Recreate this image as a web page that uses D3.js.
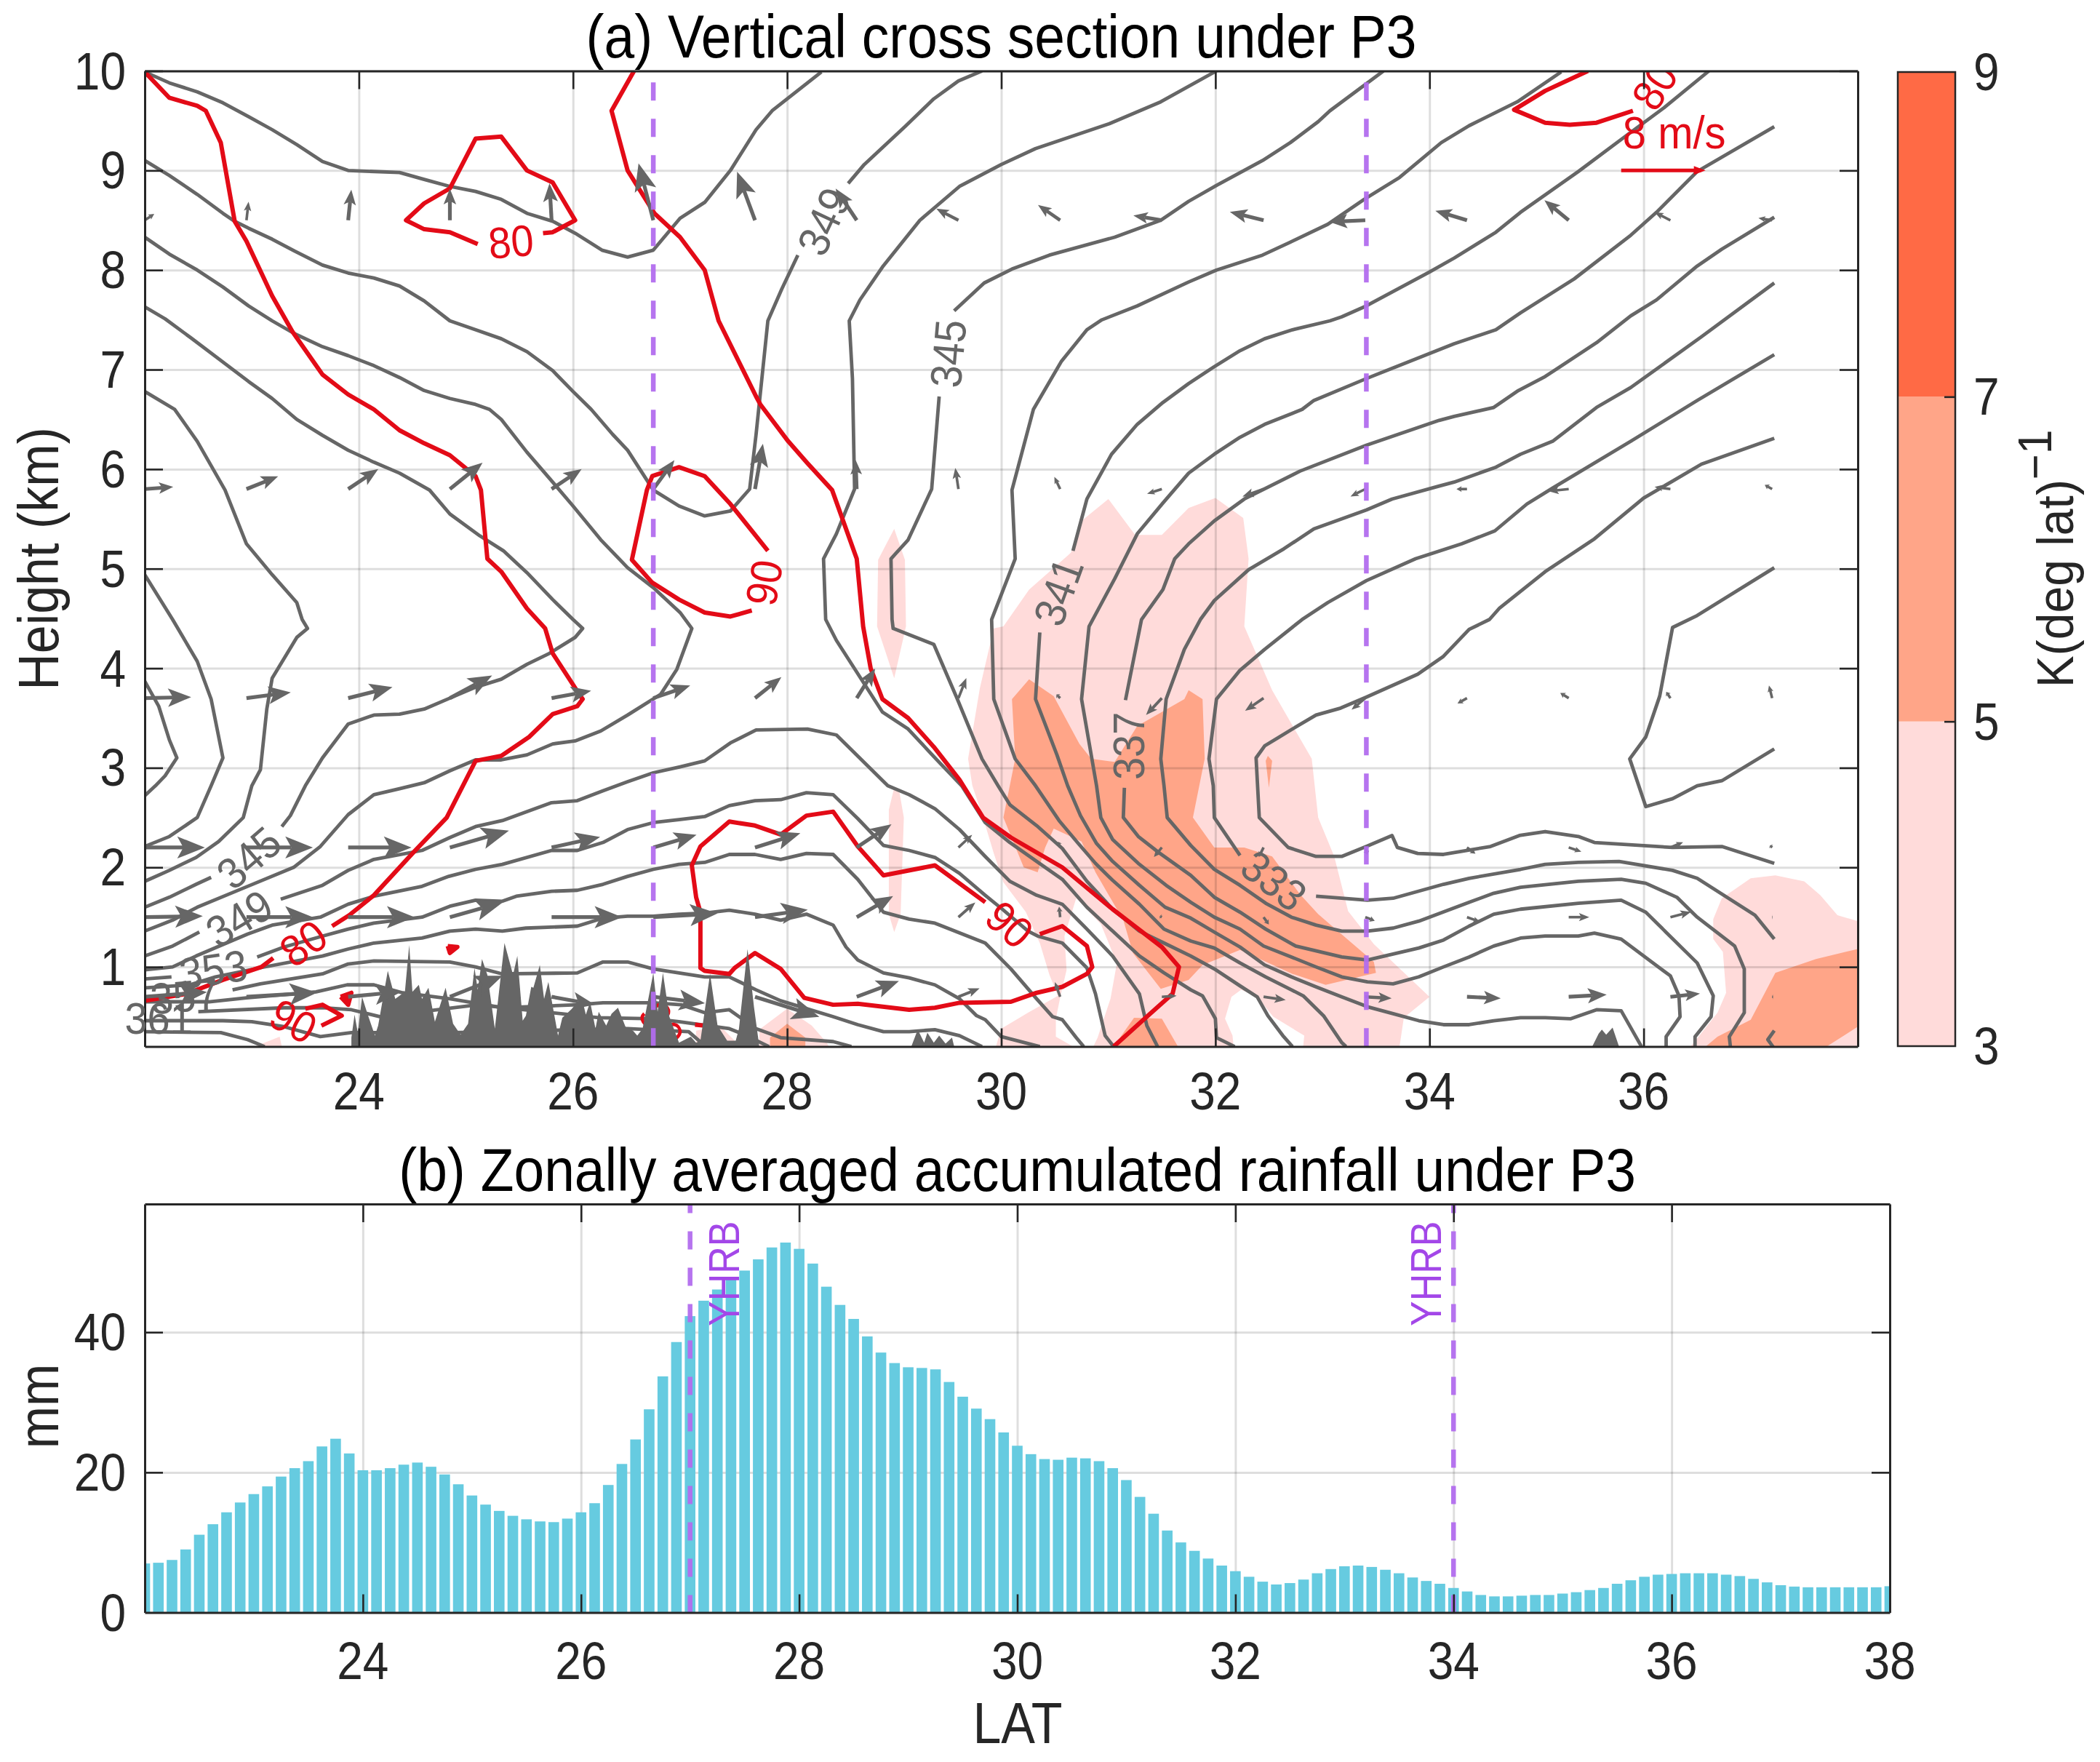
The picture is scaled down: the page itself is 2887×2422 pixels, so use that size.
<!DOCTYPE html>
<html><head><meta charset="utf-8">
<script src="https://cdn.jsdelivr.net/npm/d3@7/dist/d3.min.js"></script>
<style>
html,body{margin:0;padding:0;background:#fff}
text{font-family:"Liberation Sans",Arial,sans-serif}
</style></head><body><svg id="c" width="2887" height="2422"></svg>
<script>
// ---------- rainfall (panel b), one value per 0.125 deg from 22N ----------
const rainLat = [22,22.125,22.25,22.375,22.5,22.625,22.75,22.875,23,23.125,23.25,23.375,23.5,23.625,23.75,23.875,24,24.125,24.25,24.375,24.5,24.625,24.75,24.875,25,25.125,25.25,25.375,25.5,25.625,25.75,25.875,26,26.125,26.25,26.375,26.5,26.625,26.75,26.875,27,27.125,27.25,27.375,27.5,27.625,27.75,27.875,28,28.125,28.25,28.375,28.5,28.625,28.75,28.875,29,29.125,29.25,29.375,29.5,29.625,29.75,29.875,30,30.125,30.25,30.375,30.5,30.625,30.75,30.875,31,31.125,31.25,31.375,31.5,31.625,31.75,31.875,32,32.125,32.25,32.375,32.5,32.625,32.75,32.875,33,33.125,33.25,33.375,33.5,33.625,33.75,33.875,34,34.125,34.25,34.375,34.5,34.625,34.75,34.875,35,35.125,35.25,35.375,35.5,35.625,35.75,35.875,36,36.125,36.25,36.375,36.5,36.625,36.75,36.875,37,37.125,37.25,37.375,37.5,37.625,37.75,37.875,38];
const rainMm = [7.0,7.1,7.5,9.0,11.1,12.6,14.3,15.7,16.9,18.0,19.4,20.6,21.6,23.7,24.8,22.7,20.3,20.3,20.6,21.1,21.4,20.8,19.7,18.3,16.7,15.4,14.5,13.8,13.3,13.0,12.9,13.4,14.3,15.6,18.2,21.2,24.7,29.0,33.7,38.6,42.3,44.5,46.1,47.7,48.8,50.4,52.1,52.8,51.9,49.8,46.5,43.9,41.9,39.4,37.1,35.6,35.0,34.9,34.7,32.9,30.8,29.1,27.6,25.7,23.8,22.6,21.9,21.8,22.1,22.0,21.6,20.6,18.9,16.5,14.1,11.7,10.0,8.8,7.7,6.7,5.9,5.1,4.4,4.0,4.2,4.7,5.6,6.2,6.6,6.7,6.5,6.1,5.6,5.0,4.5,4.1,3.5,3.0,2.5,2.3,2.3,2.4,2.5,2.5,2.7,2.9,3.2,3.5,4.1,4.6,5.1,5.4,5.5,5.6,5.6,5.6,5.4,5.2,4.8,4.3,3.9,3.7,3.6,3.6,3.6,3.6,3.6,3.6,3.75];

// ---------- ticks ----------
const latTicksA = [24,26,28,30,32,34,36];
const latTicksB = [24,26,28,30,32,34,36,38];
const heightTicks = [1,2,3,4,5,6,7,8,9,10];
const rainTicks = [0,20,40];
const shadeTicks = [3,5,7,9];
const yhrbA = [26.75,33.41];
const yhrbB = [27,34];

// ---------- theta-e contours [lat,height], null = label gap ----------
const th1 = [[22,9.99],[22.23,9.88],[22.49,9.79],[22.73,9.68],[22.97,9.54],[23.19,9.41],[23.42,9.26],[23.66,9.09],[23.9,9.0],[24.38,8.98],[24.61,8.91],[24.85,8.84],[25.09,8.79],[25.33,8.71],[25.57,8.57],[25.81,8.49],[26.02,8.37],[26.27,8.2],[26.51,8.13],[26.75,8.2],[27.0,8.52],[27.23,8.68],[27.47,9.0],[27.71,9.41],[27.86,9.6],[28.32,9.99]];
const th2 = [[22,9.1],[22.23,8.95],[22.49,8.76],[22.73,8.57],[22.84,8.49],[22.97,8.42],[23.19,8.31],[23.4,8.19],[23.66,8.05],[23.9,7.97],[24.14,7.92],[24.38,7.84],[24.61,7.69],[24.85,7.49],[25.09,7.4],[25.33,7.31],[25.57,7.18],[25.81,6.99],[26.0,6.78],[26.17,6.6],[26.37,6.35],[26.51,6.19],[26.75,5.79],[26.99,5.63],[27.23,5.53],[27.47,5.58],[27.65,5.8],[27.71,6.35],[27.82,7.49],[27.95,7.81],[28.1,8.15],null,[28.57,8.87],[28.72,9.06],[29.11,9.45],[29.37,9.72],[29.6,9.9],[29.82,10]];
const th3 = [[22,8.33],[22.23,8.16],[22.49,8.0],[22.73,7.83],[22.97,7.64],[23.19,7.49],[23.4,7.36],[23.66,7.23],[23.9,7.14],[24.14,7.04],[24.38,6.92],[24.61,6.79],[24.85,6.71],[25.09,6.65],[25.22,6.6],[25.33,6.5],[25.57,6.17],[25.81,5.87],[26.0,5.63],[26.26,5.29],[26.51,5.01],[26.75,4.81],[27.0,4.56],[27.11,4.4],[26.97,3.99],[26.82,3.74],[26.51,3.53],[26.26,3.37],[26.02,3.27],[25.81,3.24],[25.57,3.13],[25.33,3.08],[25.09,3.08],[24.85,2.97],[24.61,2.85],[24.38,2.79],[24.14,2.73],[23.9,2.53],[23.64,2.21],[23.39,2.0],[22.94,1.8],[22.49,1.6],[22.26,1.47],[22,1.36]];
const th4 = [[22,7.63],[22.19,7.51],[22.43,7.32],[22.75,7.06],[22.97,6.88],[23.19,6.71],[23.42,6.5],[23.66,6.34],[23.9,6.19],[24.14,6.07],[24.38,5.96],[24.66,5.79],[24.85,5.55],[25.13,5.33],[25.35,5.18],[25.57,4.96],[25.81,4.69],[26.0,4.49],[26.09,4.4],[26.02,4.31],[25.78,4.15],[25.57,4.04],[25.33,3.89],[25.09,3.81],[24.85,3.7],[24.61,3.59],[24.38,3.54],[24.14,3.53],[23.9,3.44],[23.66,3.1],[23.5,2.82],[23.36,2.52],[23.28,2.41],null,[22.62,1.9],[22.48,1.83],[22.23,1.7],[22,1.6]];
const th5 = [[22,6.78],[22.28,6.6],[22.49,6.28],[22.75,5.79],[22.95,5.25],[23.19,4.94],[23.42,4.66],[23.47,4.49],[23.52,4.4],[23.42,4.31],[23.19,3.9],[23.14,3.59],[23.08,2.98],[23.0,2.82],[22.92,2.5],[22.69,2.26],[22.48,2.1],[22.23,1.97],[22,1.86]];
const th6 = [[22,4.94],[22.26,4.49],[22.49,4.07],[22.62,3.69],[22.73,3.1],[22.62,2.82],[22.49,2.5],[22.23,2.31],[22,2.21]];
const th7 = [[22,3.87],[22.13,3.62],[22.23,3.28],[22.3,3.1],[22.19,2.92],[22.1,2.82],[22,2.72]];
const th8 = [[22,1.11],[22.26,1.21],[22.51,1.35],null,[23.27,1.68],[23.66,1.82],[23.9,1.97],[24.14,2.08],[24.59,2.17],[24.85,2.3],[25.09,2.41],[25.34,2.47],[25.8,2.65],[26.04,2.67],[26.28,2.77],[26.51,2.86],[26.75,2.95],[27.0,3.01],[27.23,3.07],[27.47,3.25],[27.71,3.38],[28.19,3.39],[28.46,3.33],[28.94,2.82],[29.14,2.73],[29.38,2.59],[29.61,2.38],[29.85,2.11],[30.08,1.86],[30.33,1.72],[30.57,1.63],[30.8,1.38],[31.04,1.11],[31.29,0.73],[31.36,0.41],[31.46,0.2]];
const th9 = [[22,0.97],[22.26,1.0],[22.48,1.11],[22.96,1.33],[23.19,1.42],[23.64,1.5],[23.9,1.63],[24.14,1.71],[24.59,1.81],[24.84,1.91],[25.09,1.98],[25.34,2.03],[25.8,2.17],[26.04,2.17],[26.28,2.25],[26.51,2.38],[26.75,2.45],[26.99,2.48],[27.23,2.51],[27.46,2.62],[27.7,2.67],[27.94,2.68],[28.18,2.75],[28.43,2.73],[28.66,2.49],[28.9,2.22],[29.14,2.17],[29.38,2.1],[29.61,1.94],[29.85,1.72],[30.01,1.58],[30.25,1.36],[30.34,1.31],[30.57,1.24],[30.8,0.99],[30.88,0.73],[30.97,0.31],[31.05,0.2]];
const th10 = [[22,0.88],[22.25,0.9],null,[23.05,1.1],[23.3,1.2],[23.66,1.31],[23.9,1.38],[24.14,1.44],[24.59,1.5],[24.85,1.61],[25.09,1.67],[25.34,1.66],[25.47,1.71],[25.8,1.76],[26.04,1.77],[26.28,1.83],[26.51,1.91],[26.75,1.98],[26.99,2.03],[27.23,2.05],[27.46,2.13],[27.7,2.13],[27.94,2.08],[28.18,2.14],[28.43,2.13],[28.66,1.88],[28.9,1.55],[29.14,1.48],[29.38,1.44],[29.85,1.24],[30.09,0.98],[30.33,0.68],[30.48,0.5],[30.57,0.47],[30.7,0.29],[30.77,0.2]];
const th11 = [[22,0.79],[22.42,0.82],[22.66,0.9],[23.07,0.99],[23.66,1.11],[23.9,1.18],[24.14,1.24],[24.59,1.29],[24.85,1.36],[25.09,1.38],[25.34,1.36],[25.56,1.39],[26.04,1.41],[26.28,1.49],[26.51,1.51],[26.75,1.51],[26.99,1.53],[27.23,1.54],[27.46,1.57],[27.7,1.53],[27.94,1.47],[28.18,1.53],[28.43,1.42],[28.55,1.2],[28.66,1.07],[28.9,0.94],[29.14,0.89],[29.38,0.82],[29.61,0.68],[29.77,0.51],[29.85,0.47],[30.0,0.3],[30.36,0.2]];
const th12 = [[22,0.69],[22.35,0.72],null,[22.82,0.77],[23.08,0.83],[23.66,0.93],[23.9,1.03],[24.14,1.06],[24.85,1.05],[25.09,1.0],[25.34,0.93],[26.04,0.94],[26.28,1.05],[26.51,1.05],[26.75,0.98],[26.99,0.94],[27.23,0.9],[27.46,0.9],[27.71,0.77],[27.94,0.66],[28.43,0.5],[28.66,0.42],[28.9,0.35],[29.14,0.35],[29.38,0.37],[29.61,0.31],[29.82,0.2]];
const th13 = [[22,0.65],[22.6,0.65],[22.95,0.69],[23.39,0.73],[23.6,0.75],[23.89,0.82],[24.14,0.82],[24.41,0.74],[24.85,0.68],[25.34,0.59],[26.04,0.62],[26.28,0.64],[26.75,0.64],[27.01,0.62],[27.23,0.54],[27.46,0.57],[27.71,0.38],[27.94,0.29],[28.43,0.25],[28.6,0.2]];
const th14 = [[22.5,0.55],[23.3,0.59],[23.66,0.59],[23.93,0.57],[24.2,0.5],[25.11,0.62],[26.24,0.49],[26.75,0.48],[26.99,0.45],[27.46,0.38],[27.6,0.32],[27.83,0.2]];
const th15 = [[22,0.46],[22.73,0.46],[23.0,0.45],[23.3,0.4],[23.64,0.3],[23.93,0.34],[24.88,0.34],[26.51,0.38],[27.08,0.35],[27.24,0.2]];
const th16 = [[22,0.35],[22.71,0.34],[22.96,0.27],[23.12,0.2]];
const th17 = [[33.57,10],[33.07,9.6],[32.96,9.49],[32.7,9.28],[32.44,9.1],[32.01,8.85],[31.75,8.69],[31.49,8.5],[31.06,8.33],[30.45,8.15],[30.1,8.01],[29.84,7.87],[29.56,7.59],null,[29.42,6.73],[29.35,5.8],[29.13,5.29],[28.97,5.1],[28.98,4.49],[28.99,4.4],[29.37,4.24],[29.59,3.69],[29.82,3.09],[29.97,2.82],[30.08,2.63],[30.33,2.42],[30.57,2.19],[30.8,1.86],[31.04,1.58],[31.29,1.36],[31.52,1.24],[31.77,1.11],[31.99,0.98],[32.23,0.81],[32.39,0.7],[32.49,0.51],[32.63,0.31],[32.72,0.2]];
const th18 = [[35.23,9.99],[34.82,9.69],[34.37,9.45],[34.11,9.28],[33.72,8.93],[33.39,8.71],[33.05,8.46],[32.7,8.28],[32.44,8.15],[32.01,8.0],[31.75,7.88],[31.27,7.64],[30.94,7.5],[30.8,7.4],[30.56,7.08],[30.3,6.6],[30.1,5.79],[30.13,5.1],[29.91,4.49],[29.93,3.69],[30.13,3.09],[30.32,2.82],[30.54,2.47],[30.72,2.24],[30.88,2.04],[31.04,1.87],[31.29,1.63],[31.52,1.38],[31.77,1.26],[31.99,1.19],[32.23,1.04],[32.47,0.9],[32.71,0.77],[32.82,0.71],[33.01,0.51],[33.18,0.24],[33.22,0.2]];
const th19 = [[36.61,10],[36.19,9.63],[35.85,9.36],[35.39,8.99],[34.85,8.58],[34.62,8.38],[34.23,8.12],[34.0,7.98],[33.41,7.64],[33.18,7.53],[33.07,7.49],[32.72,7.4],[32.46,7.31],[32.23,7.19],[31.99,7.03],[31.75,6.86],[31.51,6.67],[31.27,6.45],[31.03,6.15],[30.8,5.7],[30.67,5.18],null,[30.36,4.36],[30.32,3.69],[30.52,3.13],[30.62,2.82],[30.74,2.52],[30.89,2.24],[31.04,2.06],[31.29,1.82],[31.53,1.6],[31.77,1.49],[31.99,1.35],[32.23,1.2],[32.46,1.02],[32.71,0.9],[32.94,0.8],[33.18,0.7],[33.42,0.6],[33.66,0.53],[33.9,0.46],[34.13,0.42],[34.37,0.42],[34.6,0.46],[34.85,0.49],[35.08,0.49],[35.32,0.48],[35.56,0.57],[35.79,0.56],[35.98,0.2]];
const th20 = [[37.22,9.44],[36.5,8.99],[36.12,8.58],[35.88,8.35],[35.35,7.91],[34.85,7.57],[34.62,7.4],[34.23,7.26],[33.41,6.91],[32.92,6.69],[32.81,6.6],[32.46,6.45],[32.23,6.32],[31.99,6.15],[31.75,5.96],[31.51,5.66],[31.27,5.35],[31.06,4.9],[30.82,4.42],[30.75,3.69],[30.89,2.82],[30.93,2.5],[31.04,2.28],[31.28,2.04],[31.54,1.82],[31.77,1.65],[31.99,1.5],[32.23,1.38],[32.45,1.21],[32.71,1.1],[32.94,1.0],[33.18,0.9],[33.42,0.85],[33.66,0.83],[33.9,0.9],[34.13,1.0],[34.37,1.1],[34.6,1.21],[34.85,1.29],[35.08,1.31],[35.39,1.31],[35.54,1.34],[35.79,1.28],[36.25,0.91],[36.33,0.71],[36.34,0.5],[36.21,0.3],[36.21,0.2]];
const th21 = [[37.22,8.53],[36.73,8.21],[36.5,8.04],[36.12,7.7],[35.88,7.54],[35.56,7.27],[35.08,6.93],[34.83,6.79],[34.6,6.62],[34.23,6.53],[34.09,6.49],[33.41,6.24],[32.79,5.98],[32.27,5.7],[31.99,5.48],[31.75,5.25],[31.62,5.1],[31.51,4.79],[31.31,4.49],[31.16,3.68],null,[31.15,2.8],[31.14,2.5],[31.28,2.31],[31.47,2.15],[31.77,1.92],[31.99,1.7],[32.23,1.55],[32.47,1.38],[32.75,1.21],[33.18,1.1],[33.42,1.07],[33.9,1.19],[34.13,1.27],[34.37,1.41],[34.6,1.53],[34.85,1.58],[35.39,1.64],[35.79,1.67],[36.02,1.55],[36.5,1.04],[36.65,0.71],[36.63,0.5],[36.48,0.3],[36.48,0.2]];
const th22 = [[37.22,7.87],[36.54,7.33],[35.88,6.82],[35.56,6.62],[35.15,6.28],[34.85,6.15],[34.62,6.02],[34.23,5.87],[34.09,5.83],[33.65,5.7],[33.41,5.59],[32.92,5.4],[32.64,5.2],[32.31,4.99],[31.99,4.68],[31.86,4.49],[31.71,4.19],[31.54,3.69],[31.49,3.09],[31.52,2.82],[31.55,2.5],[31.77,2.22],[31.99,1.98],[32.23,1.82],[32.47,1.64],[32.71,1.5],[32.94,1.42],[33.18,1.36],[33.42,1.36],[33.66,1.39],[33.9,1.46],[34.37,1.65],[34.6,1.74],[34.85,1.8],[35.39,1.86],[35.79,1.88],[36.02,1.84],[36.31,1.7],[36.5,1.5],[36.85,1.21],[36.94,0.98],[36.94,0.54],[36.8,0.3],[36.81,0.2]];
const th23 = [[37.22,7.15],[36.5,6.69],[35.88,6.28],[35.15,5.81],[34.91,5.65],[34.61,5.38],[34.3,5.25],[33.87,5.1],[33.41,4.88],[33.05,4.66],[32.81,4.49],[32.46,4.19],[32.23,3.98],[32.01,3.69],[31.94,3.09],[31.98,2.82],[31.99,2.5],[32.23,2.12],null,[32.94,1.71],[33.42,1.67],[33.66,1.69],[34.13,1.83],[34.37,1.89],[34.85,1.98],[35.08,2.03],[35.39,2.05],[35.77,2.06],[36.27,1.97],[36.5,1.89],[37.04,1.52],[37.22,1.28]];
const th24 = [[37.22,6.31],[36.54,6.05],[36.27,5.88],[36.0,5.71],[35.54,5.3],[35.08,4.97],[34.65,4.6],[34.56,4.49],[34.37,4.39],[34.13,4.12],[33.89,3.94],[33.41,3.71],[33.17,3.6],[32.94,3.53],[32.72,3.39],[32.46,3.22],[32.38,3.1],[32.41,2.5],[32.68,2.2],[32.94,2.11],[33.18,2.11],[33.41,2.21],[33.65,2.32],[33.7,2.2],[33.89,2.14],[34.13,2.13],[34.57,2.21],[34.84,2.32],[35.08,2.36],[35.39,2.31],[35.54,2.25],[36.27,2.2],[36.73,2.21],[37.22,2.04]];
const th25 = [[32.01,10],[31.49,9.69],[31.01,9.47],[30.32,9.22],[30,9.06],[29.61,8.84],[29.24,8.5],[28.89,8.03],[28.68,7.7],[28.58,7.49],[28.61,6.91],[28.63,5.8],[28.46,5.35],[28.34,5.1],[28.36,4.49],[28.46,4.28],[28.89,3.56],[29.13,3.39],[29.39,3.09],[29.63,2.82],[29.85,2.45],[30.08,2.25],[30.33,2.06],[30.57,1.88],[30.8,1.6],[31.04,1.36],[31.29,1.11],[31.52,0.94],[31.77,0.77],[31.88,0.71],[32.0,0.48],[32.01,0.29],[32.18,0.2]];
const th26 = [[37.22,3.19],[36.73,2.87],[36.5,2.82],[36.27,2.69],[36.02,2.61],[35.87,3.09],[36.02,3.31],[36.15,3.72],[36.27,4.41],[36.5,4.53],[37.22,5.01]];
const th27 = [[37.22,0.36],[37.16,0.27],[37.22,0.18]];
const thetaLines = [th1,th2,th3,th4,th5,th6,th7,th8,th9,th10,th11,th12,th13,th14,th15,th16,th17,th18,th19,th20,th21,th22,th23,th24,th25,th26,th27];

// ---------- red contours ----------
const red1 = [[22,9.99],[22.23,9.73],[22.49,9.65],[22.57,9.6],[22.71,9.28],[22.84,8.49],[22.95,8.29],[23.19,7.74],[23.38,7.38],[23.66,6.95],[23.9,6.75],[24.14,6.6],[24.38,6.39],[24.61,6.26],[24.85,6.14],[25.09,5.93],[25.14,5.79],[25.2,5.1],[25.33,4.97],[25.57,4.6],[25.74,4.4],[25.81,4.15],[26.04,3.77],[26.09,3.69],[26.04,3.62],[25.81,3.54],[25.59,3.31],[25.33,3.12],[25.09,3.07],[24.82,2.5],[24.5,2.14],[24.14,1.72],[23.91,1.52],[23.75,1.41],null,[23.2,1.09],[23.09,1.0],[22.73,0.87],[22.39,0.73],[22,0.66]];
const red2 = [[25.11,8.26],[24.85,8.38],[24.61,8.41],[24.44,8.5],[24.61,8.67],[24.85,8.82],[25.09,9.32],[25.33,9.34],[25.57,9.0],[25.81,8.88],[26.02,8.5],[25.81,8.38],[25.72,8.37]];
const red3 = [[26.57,10],[26.36,9.6],[26.51,9],[26.76,8.57],[27,8.33],[27.23,8.0],[27.36,7.49],[27.71,6.73],[27.75,6.65],[28.01,6.28],[28.19,6.06],[28.42,5.79],[28.65,5.1],[28.71,4.42],[28.78,4.0],[28.89,3.69],[29.13,3.5],[29.37,3.21],[29.61,2.88],[29.83,2.5],[30.09,2.3],[30.57,2.0],[31.04,1.58],[31.5,1.2],[31.66,1.0],[31.6,0.73],[31.39,0.53],[31.05,0.2]];
const red4 = [[27.82,5.18],[27.47,5.65],[27.23,5.93],[26.99,6.02],[26.74,5.93],[26.69,5.79],[26.55,5.09],[26.74,4.86],[26.99,4.69],[27.23,4.56],[27.47,4.52],[27.67,4.58]];
const red5 = [[29.85,1.65],[29.38,2.02],[28.9,1.92],[28.66,2.21],[28.43,2.56],[28.18,2.52],[27.94,2.33],[27.7,2.42],[27.46,2.46],[27.19,2.21],[27.11,2.02],[27.15,1.7],[27.19,1.55],[27.19,0.99],[27.23,0.96],[27.46,0.93],[27.51,0.99],[27.7,1.14],[27.94,0.98],[28.16,0.69],[28.43,0.62],[28.66,0.63],[29.14,0.57],[29.38,0.59],[29.61,0.64],[30.09,0.65],[30.33,0.74],[30.57,0.8],[30.8,0.93],[30.85,1.0],[30.8,1.21],[30.57,1.41],[30.36,1.33]];
const red6 = [[23.65,0.41],[23.84,0.51],[23.66,0.62],[23.5,0.58]];
const red7 = [[23.83,0.7],[23.93,0.74],[23.9,0.62],[23.83,0.7]];
const red8 = [[24.83,1.21],[24.92,1.2],[24.85,1.14],[24.83,1.21]];
const red9 = [[27.14,0.42],[27.23,0.41],[27.37,0.2]];
const red10 = [[35.48,10],[35.08,9.8],[34.79,9.61],[35.08,9.48],[35.31,9.46],[35.56,9.48],[35.9,9.6]];
const redLines = [red1,red2,red3,red4,red5,red6,red7,red8,red9,red10];

// ---------- contour labels [lat,height,angle] ----------
const greyLabelText = ["345","349","353","357","361","349","345","341","337","333"];
const greyLabelAt = [[22.97,2.1,-41],[22.88,1.49,-31],[22.64,0.98,-8],[22.37,0.71,-5],[22.13,0.49,0],[28.34,8.49,-65],[29.5,7.16,-85],[30.53,4.77,-70],[31.19,3.22,-90],[32.55,1.87,38]];
const redLabelText = ["80","80","90","90","90","80","90"];
const redLabelAt = [[25.42,8.29,-5],[23.48,1.24,-35],[27.78,4.86,-80],[30.08,1.43,42],[23.39,0.46,28],[36.1,9.85,-58],[26.83,0.42,60]];

// ---------- wind vectors ----------
const windLat = [22,22.95,23.9,24.85,25.8,26.75,27.7,28.65,29.6,30.55,31.5,32.45,33.4,34.35,35.3,36.25,37.2];
const rowHeight = [8.5,5.8,3.7,2.2,1.5,0.7];
const windU = [
 [0.9,0.2,0.3,0,-0.2,-1.4,-1.7,-2,-2.1,-2.1,-2.7,-3.2,-3.4,-3,-2.3,-1.5,-1.3],
 [2.7,3,2.85,3.1,2.85,2,0.75,-0.1,-0.3,-0.55,-1.4,-2,-1.4,-1,-1.9,-1.5,-0.7],
 [4.4,4.2,4.2,4,3.75,3.5,2.5,1.75,0.75,-0.35,-1.5,-1.75,-1.3,-0.9,-0.8,-0.4,-0.3],
 [5.7,6.3,6,5.6,4.6,4.1,4.3,3.3,1.3,-0.2,-0.75,-0.45,0.2,0.8,1.2,1.2,-0.2],
 [5.5,6.3,6.3,5,6.7,6.1,5,3.45,1.6,-0.1,-0.2,0.5,0.9,1.25,1.95,1.95,0.05],
 [5.9,6.7,5.1,5,4.1,4.9,6.1,4,2,-0.5,1.4,2.1,2.5,3.2,3.6,2.8,0.1]];
const windW = [
 [0.6,1.76,2.9,3,3.5,5.4,4.6,3,1.1,1.45,0.45,0.8,-0.15,0.9,1.9,0.76,0.2],
 [0.2,1.2,1.9,2.5,1.9,2.75,4.3,2.75,2,1.15,-0.45,-0.7,-0.7,0,-0.2,0.2,0.4],
 [0.1,0.55,1.05,2.15,0.7,1.2,2,2.8,1.9,0.35,-1.6,-1.2,-1.1,-0.5,0.5,0.6,1.2],
 [0,0,0,1.6,1,1.2,1.35,2.2,1.2,0.55,-0.9,-0.9,-0.7,-0.6,-0.4,0.5,0.2],
 [0.1,0,0,1.4,0,0.35,0.7,2,1.4,1,0.1,-0.7,-0.35,-0.45,0,0.5,0],
 [0.45,0.4,0.5,2,-0.75,-0.6,-1.9,1.5,0.8,1.4,0.1,-0.3,-0.15,-0.15,0.2,0.3,0]];
const refArrow = {lat:35.79,height:9,speed:8,label:"8 m/s"};

// ---------- shading polygons ----------
const shadeMain = [[29.95,0.2],[30.0,0.38],[30.25,0.54],[30.53,0.71],[30.45,0.92],[30.36,1.24],[30.23,1.55],[30.02,1.85],[29.93,2.14],[29.83,2.5],[29.73,2.82],[29.69,3.09],[29.8,3.8],[29.93,4.4],[30.02,4.42],[30.26,4.79],[30.65,5.16],[30.75,5.48],[31,5.7],[31.25,5.34],[31.5,5.34],[31.75,5.61],[32,5.71],[32.26,5.51],[32.31,5.1],[32.27,4.42],[32.53,3.78],[32.9,3.09],[32.96,2.5],[33.11,2.11],[33.24,1.56],[33.48,1.23],[34,0.7],[33.76,0.49],[33.72,0.2]];
const holeA = [[30.7,1.69],[30.93,1.43],[31.08,1.04],[31.02,0.68],[30.9,0.29],[30.86,0.2],[30.67,0.2],[30.51,0.3],[30.51,0.48],[30.55,0.69],[30.61,0.97],[30.59,1.31]];
const holeB = [[32.15,0.7],[32.24,0.77],[32.39,0.7],[32.54,0.5],[32.83,0.31],[32.82,0.2],[32.17,0.2],[32.16,0.31],[32.09,0.48]];
const shadeS1 = [[29,5.4],[28.85,5.09],[28.84,4.42],[29,3.9],[29.11,4.42],[29.1,5.09]];
const shadeS2 = [[29,2.8],[28.95,2.58],[28.95,1.53],[29,1.35],[29.06,1.53],[29.09,2.5],[29.05,2.75]];
const shadeS3 = [[23.03,0.2],[23.26,0.3],[23.28,0.2]];
const shadeS4 = [[27.74,0.37],[28,0.58],[28.23,0.41],[28.37,0.24],[28.39,0.2],[27.74,0.2]];
const shadeS5 = [[27.15,0.36],[27.37,0.41],[27.51,0.26],[27.6,0.2],[27.15,0.2]];
const shadeRight = [[36.65,1.48],[36.73,1.69],[37,1.89],[37.23,1.92],[37.5,1.86],[37.65,1.72],[37.81,1.52],[38,1.46],[38,0.2],[36.44,0.2],[36.69,0.54],[36.77,0.74],[36.74,1.15],[36.65,1.28]];
const midMain = [[30.26,3.89],[30.1,3.69],[30.13,3.09],[30.02,2.5],[30.21,2.0],[30.34,1.95],[30.41,2.2],[30.49,2.39],[30.75,2.26],[30.88,1.95],[31.14,1.47],[31.23,1.14],[31.49,0.78],[31.75,0.87],[31.88,1.02],[32.23,1.17],[32.72,0.93],[33.03,0.82],[33.5,0.94],[33.48,1.05],[32.96,1.53],[32.79,1.73],[32.53,2.11],[32.27,2.2],[31.99,2.2],[31.79,2.5],[31.9,3.09],[31.88,3.69],[31.75,3.78],[31.71,3.69],[31.27,3.42],[31.06,3.06],[30.84,3.09],[30.73,3.24],[30.49,3.72]];
const midSliver = [[32.49,3.12],[32.53,3.07],[32.5,2.8],[32.47,3.07]];
const midBottom = [[31.24,0.49],[31.5,0.48],[31.65,0.2],[31.05,0.2]];
const midLow = [[27.84,0.29],[28,0.43],[28.17,0.29],[28.17,0.2],[27.84,0.2]];
const midRight = [[36.58,0.2],[36.69,0.3],[37,0.47],[37.23,0.94],[37.61,1.08],[38,1.18],[38,0.4],[37.71,0.2]];

// ---------- terrain ----------
const terrain1 = [[23.93,0.2],[23.93,0.29],[23.96,0.52],[23.99,0.34],[24.03,0.7],[24.08,0.53],[24.15,0.31],[24.18,0.41],[24.27,0.96],[24.34,0.68],[24.43,0.75],[24.47,1.22],[24.5,0.75],[24.56,0.82],[24.59,0.68],[24.65,0.79],[24.71,0.45],[24.81,0.79],[24.88,0.43],[24.95,0.32],[25.02,0.43],[25.08,0.99],[25.11,0.77],[25.15,1.08],[25.2,0.92],[25.27,0.38],[25.36,1.24],[25.44,0.92],[25.48,1.11],[25.53,0.46],[25.56,0.51],[25.61,0.8],[25.63,0.79],[25.69,1.02],[25.73,0.68],[25.77,0.85],[25.86,0.31],[25.9,0.49],[26,0.59],[26.08,0.7],[26.12,0.52],[26.16,0.65],[26.21,0.38],[26.24,0.55],[26.31,0.41],[26.36,0.53],[26.42,0.59],[26.49,0.4],[26.56,0.36],[26.6,0.31],[26.65,0.38],[26.75,0.94],[26.79,0.55],[26.84,0.94],[26.9,0.5],[26.99,0.24],[27.1,0.3],[27.15,0.24],[27.19,0.26],[27.28,0.93],[27.35,0.41],[27.44,0.26],[27.52,0.26],[27.55,0.38],[27.63,1.18],[27.69,0.6],[27.74,0.2]];
const terrain2 = [[29.16,0.2],[29.22,0.37],[29.28,0.24],[29.31,0.34],[29.37,0.24],[29.42,0.31],[29.48,0.23],[29.54,0.29],[29.56,0.2]];
const terrain3 = [[35.52,0.2],[35.58,0.33],[35.61,0.37],[35.65,0.32],[35.71,0.39],[35.77,0.2]];

// ---------- drawing ----------
const svg = d3.select("#c");
const GREY="#666666", RED="#E30B17", PURPLE="#B26DEE", PINK="#FFDBDA", MID="#FFA588", HI="#FF6A45", INK="#262626";
const TICK_STRETCH = 1.13, TITLE_STRETCH = 1.1;

const xA = d3.scaleLinear().domain([22,38]).range([199,2554]);
const yA = d3.scaleLinear().domain([0.2,10]).range([1438.6,97.5]);
const xB = d3.scaleLinear().domain([22,38]).range([199,2598]);
const yB = d3.scaleLinear().domain([0,58.3]).range([2216.5,1655]);
const yC = d3.scaleLinear().domain([3,9]).range([1438,99]);
const speedPx = d3.scaleLinear().domain([0,8]).range([0,116]);

const defs = svg.append("defs");
defs.append("clipPath").attr("id","ca").append("rect").attr("x",199).attr("y",97.5).attr("width",2355).attr("height",1341.1);
defs.append("clipPath").attr("id","cb").append("rect").attr("x",199).attr("y",1655).attr("width",2399).attr("height",561.5);

const gA = svg.append("g");
const plotA = gA.append("g").attr("clip-path","url(#ca)");
const lineA = d3.line().defined(d=>d!==null).x(d=>xA(d[0])).y(d=>yA(d[1]));
const ring = pts => lineA(pts)+"Z";

// shading
plotA.append("path").attr("fill",PINK).attr("fill-rule","evenodd").attr("d",ring(shadeMain)+ring(holeA)+ring(holeB));
[shadeS1,shadeS2,shadeS3,shadeS4,shadeS5,shadeRight].forEach(p=>plotA.append("path").attr("fill",PINK).attr("d",ring(p)));
[midMain,midSliver,midBottom,midLow,midRight].forEach(p=>plotA.append("path").attr("fill",MID).attr("d",ring(p)));

function grid(g,scale,orient,ticks){
  const ax = (orient==="x"?d3.axisBottom(scale):d3.axisLeft(scale)).tickValues(ticks).tickSize(0).tickFormat("");
  const s = g.append("g").call(ax);
  s.select(".domain").remove();
  s.selectAll("line").attr("stroke","#000").attr("stroke-opacity",0.13).attr("stroke-width",3);
  return s;
}
grid(gA,xA,"x",latTicksA).attr("transform","translate(0,97.5)").selectAll("line").attr("y2",1341);
grid(gA,yA,"y",heightTicks).attr("transform","translate(199,0)").selectAll("line").attr("x2",2355);

const plotA2 = gA.append("g").attr("clip-path","url(#ca)");
// contours
plotA2.append("g").selectAll("path").data(thetaLines).join("path").attr("d",lineA)
  .attr("fill","none").attr("stroke",GREY).attr("stroke-width",4.8).attr("stroke-linejoin","round");
plotA2.append("g").selectAll("path").data(redLines).join("path").attr("d",lineA)
  .attr("fill",(d,i)=>(redLines[i]===red7||redLines[i]===red8)?RED:"none").attr("stroke",RED).attr("stroke-width",6).attr("stroke-linejoin","round");

// red labels (under the terrain)
plotA2.append("g").selectAll("text").data(redLabelAt).join("text")
  .attr("transform",d=>`translate(${xA(d[0])},${yA(d[1])}) rotate(${d[2]}) scale(1,1.08)`)
  .attr("text-anchor","middle").attr("dy","0.36em").attr("font-size",56).attr("fill",RED)
  .text((d,i)=>redLabelText[i]);

// terrain
[terrain1,terrain2,terrain3].forEach(t=>plotA2.append("path").attr("d",ring(t)).attr("fill",GREY));

// vectors
function arrow(g,x0,y0,dx,dy,color,sw){
  const len=Math.hypot(dx,dy); if(len<0.5) return;
  const ux=dx/len, uy=dy/len, hl=Math.min(len*0.5,38), hw=Math.max(hl*0.4,4), x1=x0+dx, y1=y0+dy;
  const bx=x1-ux*hl, by=y1-uy*hl, nx=x1-ux*hl*0.78, ny=y1-uy*hl*0.78;
  g.append("line").attr("x1",x0).attr("y1",y0).attr("x2",nx).attr("y2",ny).attr("stroke",color).attr("stroke-width",sw);
  g.append("path").attr("fill",color).attr("d",`M${x1},${y1}L${bx-uy*hw},${by+ux*hw}L${nx},${ny}L${bx+uy*hw},${by-ux*hw}Z`);
}
const vec = plotA2.append("g");
rowHeight.forEach((h,r)=>windLat.forEach((la,i)=>{
  const dx=speedPx(windU[r][i]), dy=-speedPx(windW[r][i]), l=Math.hypot(dx,dy);
  arrow(vec,xA(la),yA(h),dx,dy,GREY,Math.max(3.6,Math.min(5.2,l/8)));
}));

// grey labels
svg.append("g").selectAll("text").data(greyLabelAt).join("text")
  .attr("transform",d=>`translate(${xA(d[0])},${yA(d[1])}) rotate(${d[2]}) scale(1,1.08)`)
  .attr("text-anchor","middle").attr("dy","0.36em").attr("font-size",56).attr("fill",GREY)
  .text((d,i)=>greyLabelText[i]);

// reference arrow
{
  const g=gA.append("g");
  const x0=xA(refArrow.lat), y0=yA(refArrow.height), L=speedPx(refArrow.speed);
  g.append("line").attr("x1",x0).attr("y1",y0).attr("x2",x0+L-6).attr("y2",y0).attr("stroke",RED).attr("stroke-width",5);
  g.append("path").attr("fill",RED).attr("d",`M${x0+L},${y0}L${x0+L-16},${y0-6}L${x0+L-16},${y0+6}Z`);
  g.append("text").attr("transform",`translate(${x0+L/2+15},${y0-30}) scale(1,1.1)`).attr("text-anchor","middle").attr("font-size",58).attr("fill",RED).text(refArrow.label);
}

// YHRB dashes panel a
gA.append("g").selectAll("line").data(yhrbA).join("line")
  .attr("x1",d=>xA(d)).attr("x2",d=>xA(d)).attr("y1",97.5).attr("y2",1438.6)
  .attr("stroke",PURPLE).attr("stroke-width",6.5).attr("stroke-dasharray","25 25").attr("stroke-dashoffset",34.2).attr("stroke-opacity",0.95);

// axes
function box(g,sx,sy,xt,yt,xx0,xx1,yy0,yy1){
  const st=s=>{s.select(".domain").attr("stroke",INK).attr("stroke-width",3);s.selectAll(".tick line").attr("stroke",INK).attr("stroke-width",2.6);};
  g.append("g").attr("transform",`translate(0,${yy0})`).call(d3.axisBottom(sx).tickValues(xt).tickSizeInner(-25).tickSizeOuter(0).tickFormat("")).call(st);
  g.append("g").attr("transform",`translate(0,${yy1})`).call(d3.axisTop(sx).tickValues(xt).tickSizeInner(-25).tickSizeOuter(0).tickFormat("")).call(st);
  g.append("g").attr("transform",`translate(${xx0},0)`).call(d3.axisLeft(sy).tickValues(yt).tickSizeInner(-25).tickSizeOuter(0).tickFormat("")).call(st);
  g.append("g").attr("transform",`translate(${xx1},0)`).call(d3.axisRight(sy).tickValues(yt).tickSizeInner(-25).tickSizeOuter(0).tickFormat("")).call(st);
}
box(gA,xA,yA,latTicksA,heightTicks,199,2554,1438.6,97.5);
const TS=64;
const tickText = (sel,fx,fy,anchor) => sel.attr("transform",d=>`translate(${fx(d)},${fy(d)}) scale(1,${TICK_STRETCH})`).attr("text-anchor",anchor).attr("font-size",TS).attr("fill",INK).text(d=>d);
gA.append("g").selectAll("text").data(latTicksA).join("text").call(tickText,d=>xA(d),()=>1525,"middle");
gA.append("g").selectAll("text").data(heightTicks).join("text").call(tickText,()=>173,d=>yA(d)+25,"end");
gA.append("text").attr("transform",`translate(1376.5,79) scale(1,${TITLE_STRETCH})`).attr("text-anchor","middle").attr("font-size",75).attr("fill","#000").text("(a) Vertical cross section under P3");
gA.append("text").attr("transform","translate(80,768) rotate(-90) scale(1,1.12)").attr("text-anchor","middle").attr("font-size",70).attr("fill",INK).text("Height (km)");

// colorbar
const cb = svg.append("g");
const bands=[[3,5,PINK],[5,7,MID],[7,9,HI]];
cb.selectAll("rect.b").data(bands).join("rect").attr("x",2609).attr("width",79).attr("y",d=>yC(d[1])).attr("height",d=>yC(d[0])-yC(d[1])).attr("fill",d=>d[2]);
cb.append("rect").attr("x",2609).attr("y",99).attr("width",79).attr("height",1339).attr("fill","none").attr("stroke",INK).attr("stroke-width",2.5);
cb.append("g").attr("transform","translate(2688,0)").call(d3.axisLeft(yC).tickValues([5,7]).tickSize(15).tickFormat("")).call(s=>{s.select(".domain").remove();s.selectAll("line").attr("stroke",INK).attr("stroke-width",2.6);});
cb.append("g").selectAll("text").data(shadeTicks).join("text").call(tickText,()=>2713,d=>yC(d)+25,"start");
const cl = cb.append("text").attr("transform","translate(2850,768) rotate(-90) scale(1,1.08)").attr("text-anchor","middle").attr("font-size",66).attr("fill",INK);
cl.append("tspan").text("K(deg lat)");
cl.append("tspan").attr("dy",-28).attr("font-size",60).text("\u22121");

// panel b
const gB = svg.append("g");
grid(gB,xB,"x",latTicksB).attr("transform","translate(0,1655)").selectAll("line").attr("y2",561.5);
grid(gB,yB,"y",rainTicks).attr("transform","translate(199,0)").selectAll("line").attr("x2",2399);
const plotB = gB.append("g").attr("clip-path","url(#cb)");
const barW = (xB(22.125)-xB(22))*0.78;
plotB.selectAll("rect").data(rainMm).join("rect")
  .attr("x",(d,i)=>xB(rainLat[i])-barW/2).attr("width",barW)
  .attr("y",d=>yB(d)).attr("height",d=>yB(0)-yB(d)).attr("fill","#66CBE0");
gB.append("g").selectAll("line").data(yhrbB).join("line")
  .attr("x1",d=>xB(d)).attr("x2",d=>xB(d)).attr("y1",1655).attr("y2",2216.5)
  .attr("stroke",PURPLE).attr("stroke-width",6.5).attr("stroke-dasharray","25 25").attr("stroke-dashoffset",12.6).attr("stroke-opacity",0.95);
box(gB,xB,yB,latTicksB.slice(0,7),[20,40],199,2598,2216.5,1655);
gB.append("g").selectAll("text").data(latTicksB).join("text").call(tickText,d=>xB(d),()=>2308,"middle");
gB.append("g").selectAll("text").data(rainTicks).join("text").call(tickText,()=>173,d=>yB(d)+25,"end");
gB.append("text").attr("transform",`translate(1398.5,1637) scale(1,${TITLE_STRETCH})`).attr("text-anchor","middle").attr("font-size",75).attr("fill","#000").text("(b) Zonally averaged accumulated rainfall under P3");
gB.append("text").attr("transform","translate(80,1933) rotate(-90) scale(1,1.12)").attr("text-anchor","middle").attr("font-size",70).attr("fill",INK).text("mm");
gB.append("text").attr("transform",`translate(1399,2396) scale(1,${TICK_STRETCH})`).attr("text-anchor","middle").attr("font-size",70).attr("fill",INK).text("LAT");
gB.append("g").selectAll("text").data(yhrbB).join("text")
  .attr("transform",d=>`translate(${d===27?1016:1981},1823) rotate(-90) scale(1,1.15)`)
  .attr("font-size",52).attr("fill","#A347E8").text("YHRB");
</script></body></html>
